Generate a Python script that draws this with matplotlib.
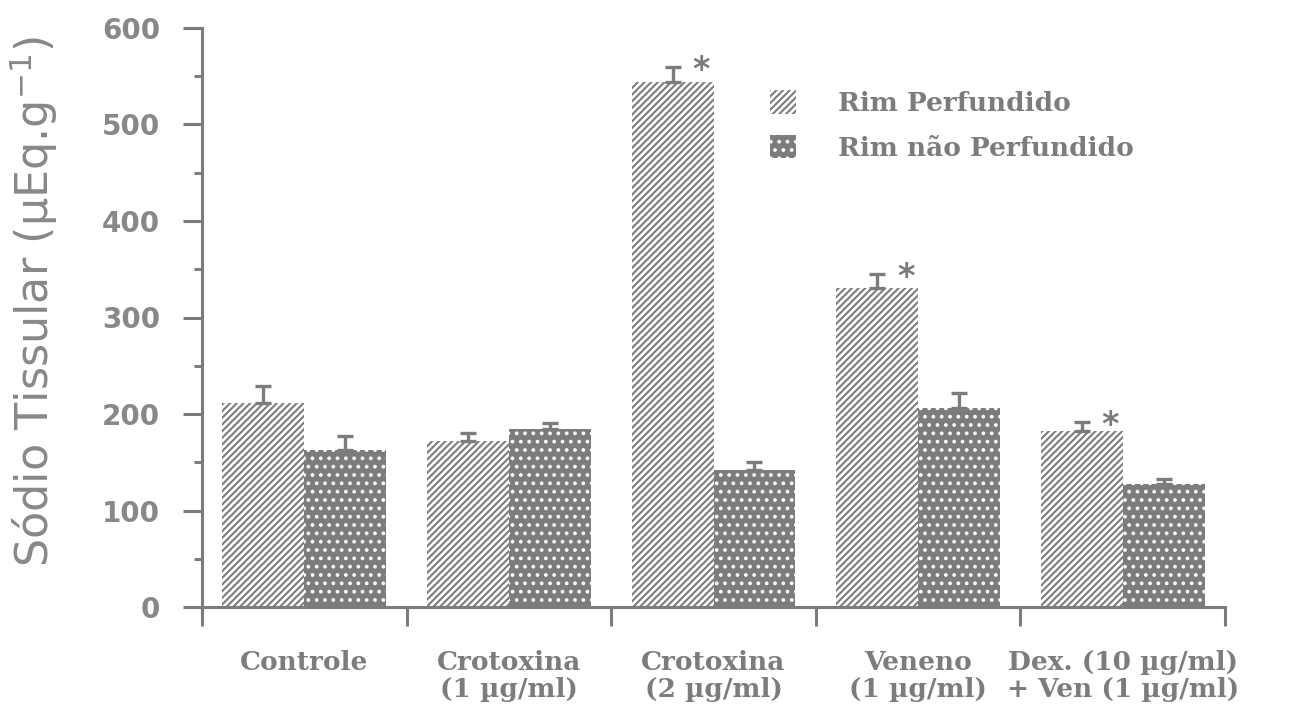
import matplotlib
matplotlib.use("Agg")
import matplotlib.pyplot as plt
import numpy as np

categories = ["Controle", "Crotoxina\n(1 µg/ml)", "Crotoxina\n(2 µg/ml)",
              "Veneno\n(1 µg/ml)", "Dex. (10 µg/ml)\n+ Ven (1 µg/ml)"]
perfundido = [211, 172, 544, 331, 182]
perfundido_err = [18, 8, 16, 14, 10]
nao_perfundido = [163, 184, 142, 206, 127]
nao_perfundido_err = [14, 7, 8, 16, 6]
significant = [False, False, True, True, True]
series_names = ["Rim Perfundido", "Rim não Perfundido"]
y_ticks = [0, 100, 200, 300, 400, 500, 600]

gray = "#7c7c7c"
light = "#888888"

plt.rcParams["hatch.linewidth"] = 1.5

fig = plt.figure(figsize=(12.99, 7.04), dpi=100)
W, H = 1299, 704
ax = fig.add_axes([202 / W, 1 - 607 / H, (1225 - 202) / W, (607 - 28) / H])

x = np.arange(len(categories))
bw = 0.4
b1 = ax.bar(x - bw / 2, perfundido, bw, facecolor="white", edgecolor=gray,
            hatch="/////", linewidth=0, label=series_names[0], zorder=2)
b2 = ax.bar(x + bw / 2, nao_perfundido, bw, facecolor=gray, edgecolor="white",
            hatch="..", linewidth=0, label=series_names[1], zorder=2)

zeros = np.zeros(len(x))
ax.errorbar(x - bw / 2, perfundido, yerr=[zeros, perfundido_err], fmt="none",
            ecolor=gray, elinewidth=2.4, capsize=6, capthick=2.4, zorder=3)
ax.errorbar(x + bw / 2, nao_perfundido, yerr=[zeros, nao_perfundido_err], fmt="none",
            ecolor=gray, elinewidth=2.4, capsize=6, capthick=2.4, zorder=3)

for xi, v, e, s in zip(x, perfundido, perfundido_err, significant):
    if s:
        ax.text(xi - bw / 2 + 0.14, v + e - 4, "*", ha="center", va="center",
                fontsize=24, fontweight="bold", color=gray, fontfamily="DejaVu Sans")

ax.set_xlim(-0.5, 4.5)
ax.set_ylim(0, 600)

for sp in ["top", "right"]:
    ax.spines[sp].set_visible(False)
for sp in ["left", "bottom"]:
    ax.spines[sp].set_color(gray)
    ax.spines[sp].set_linewidth(2.2)

ax.set_yticks(y_ticks)
ax.set_yticks(np.arange(50, 600, 100), minor=True)
ax.tick_params(axis="y", which="major", direction="out", length=14, width=2.2,
               color=gray, pad=16, labelsize=20, labelcolor=light)
ax.tick_params(axis="y", which="minor", direction="out", length=6, width=2.2, color=gray)
for lbl in ax.get_yticklabels():
    lbl.set_fontweight("bold")

ax.set_xticks(np.arange(-0.5, 5.0, 1.0))
ax.set_xticklabels([])
ax.set_xticks(x, minor=True)
ax.set_xticklabels(categories, minor=True, fontfamily="DejaVu Serif",
                   fontweight="bold", fontsize=19, color=gray, linespacing=1.1)
ax.tick_params(axis="x", which="major", direction="out", length=14, width=2.2, color=gray)
ax.tick_params(axis="x", which="minor", length=0, pad=31)

ax.set_ylabel("Sódio Tissular (µEq.g$^{-1}$)", fontsize=32, color=light,
              fontfamily="DejaVu Sans")
ax.yaxis.set_label_coords(-0.139, 0.527)

leg = ax.legend(handles=[b1, b2], loc="upper left", bbox_to_anchor=(0.542, 0.915),
                frameon=False, handlelength=1.0, handleheight=1.0,
                handletextpad=1.6, labelspacing=0.7, borderpad=0,
                prop={"family": "DejaVu Serif", "weight": "bold", "size": 19})
for t in leg.get_texts():
    t.set_color(gray)

fig.savefig("out.png", dpi=100)
